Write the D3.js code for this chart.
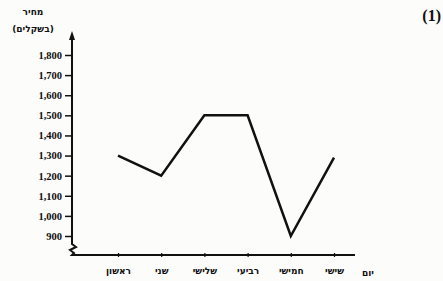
<!DOCTYPE html>
<meta charset="utf-8">
<style>
body { margin: 0; background: #fcfcfb; }
svg { display: block; }
text { font-family: "Liberation Serif", "DejaVu Serif", serif; fill: #111; }
</style>
<svg width="443" height="281"></svg>
<script src="https://cdnjs.cloudflare.com/ajax/libs/d3/7.8.5/d3.min.js"></script>
<script>
// נתונים
var days = ["ראשון", "שני", "שלישי", "רביעי", "חמישי", "שישי"];
var prices = [1300, 1200, 1500, 1500, 900, 1290];
var yTicks = [900, 1000, 1100, 1200, 1300, 1400, 1500, 1600, 1700, 1800];

var svg = d3.select("svg");
var x0 = 72, xAxisY = 255;

var x = d3.scalePoint().domain(days).range([118, 334]);
var y = d3.scaleLinear().domain([900, 1800]).range([236, 55]);

// y axis line with arrow and break
svg.append("path")
    .attr("d", "M" + x0 + ",36 L" + x0 + ",244 l4,3 l-6,3 l4,3 L" + x0 + "," + xAxisY + " L355," + xAxisY)
    .attr("fill", "none").attr("stroke", "#111").attr("stroke-width", 2);
svg.append("path")
    .attr("d", "M" + (x0 - 3) + ",40 L" + x0 + ",31 L" + (x0 + 3) + ",40 Z")
    .attr("fill", "#111");

var yAxis = d3.axisLeft(y).tickValues(yTicks).tickSize(7).tickPadding(3)
    .tickFormat(d3.format(","));
var gy = svg.append("g").attr("transform", "translate(" + x0 + ",0)").call(yAxis);
gy.select(".domain").remove();
gy.selectAll("line").attr("stroke", "#111").attr("stroke-width", 1.5);
gy.selectAll("text").attr("font-size", 10.5).attr("font-weight", "bold")
    .style("font-family", "'Liberation Serif', serif").attr("fill", "#111");

var xAxis = d3.axisBottom(x).tickSize(4).tickPadding(11);
var gx = svg.append("g").attr("transform", "translate(0," + (xAxisY - 2) + ")").call(xAxis);
gx.select(".domain").remove();
gx.selectAll("line").attr("stroke", "#111").attr("stroke-width", 1.2);
gx.selectAll("text").attr("font-size", 9).attr("font-weight", "bold")
    .style("font-family", "'DejaVu Sans', sans-serif").attr("fill", "#111");

// the line
var line = d3.line().x(function(d, i) { return x(days[i]); }).y(function(d) { return y(d); });
svg.append("path").datum(prices)
    .attr("d", line).attr("fill", "none")
    .attr("stroke", "#111").attr("stroke-width", 2.5).attr("stroke-linejoin", "miter");

// titles
svg.append("text").attr("x", 33).attr("y", 15).attr("text-anchor", "middle")
    .attr("font-size", 9).attr("font-weight", "bold").style("font-family", "'DejaVu Sans', sans-serif")
    .text("מחיר");
svg.append("text").attr("x", 33).attr("y", 32).attr("text-anchor", "middle")
    .attr("font-size", 9).attr("font-weight", "bold").style("font-family", "'DejaVu Sans', sans-serif")
    .text("(בשקלים)");
svg.append("text").attr("x", 368).attr("y", 276).attr("text-anchor", "middle")
    .attr("font-size", 9).attr("font-weight", "bold").style("font-family", "'DejaVu Sans', sans-serif")
    .text("יום");
svg.append("text").attr("x", 441).attr("y", 21).attr("text-anchor", "end")
    .attr("font-size", 16).attr("font-weight", "bold")
    .text("(1)");
</script>
